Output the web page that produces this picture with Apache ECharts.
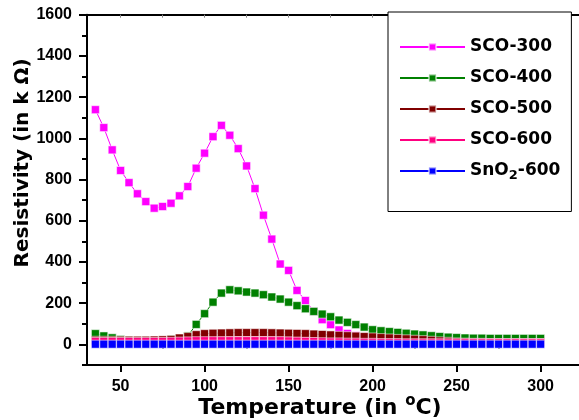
<!DOCTYPE html>
<html><head><meta charset="utf-8">
<script src="https://cdn.jsdelivr.net/npm/echarts@6/dist/echarts.min.js"></script>
<style>html,body{margin:0;padding:0;background:#fff}#c{width:579px;height:420px}</style>
</head><body><div id="c"></div>
<script>
const temps = [35,40,45,50,55,60,65,70,75,80, 85,90,95,100,105,110,115,120,125,130,
  135,140,145,150,155,160,165,170,175,180, 185,190,195,200,205,210,215,220,225,230,
  235,240,245,250,255,260,265,270,275,280, 285,290,295,300];
const sco300 = [1139,1052,944,844,785,731,693,661,669,685, 721,766,855,928,1008,1063,1015,950,866,756,
  627,511,390,359,262,213,160,120,96,70, 53,42,35,30,28,27,26,25,23,22,
  21,20,20,19,19,18,18,18,18,18, 18,18,18,18];
const sco400 = [52,41,32,24,20,19,19,19,21,25, 31,41,97,149,205,249,265,260,254,249,
  241,230,220,205,188,173,160,147,134,118, 107,96,84,71,66,62,58,54,50,46,
  42,38,35,33,31,30,30,29,29,29, 29,29,29,29];
const sco500 = [20,20,20,20,20,20,20,21,22,24, 31,38,47,52,54,55,56,57,57,57,
  57,56,55,54,53,52,50,48,46,44, 42,40,38,36,33,31,29,27,25,23,
  20,17,15,12,11,10,10,9,9,9, 9,9,9,9];
const sco600 = [14,14,14,14,14,14,14,14,14,15, 16,17,18,18,18,18,18,18,18,18,
  18,18,18,17,16,15,14,13,12,12, 11,11,10,10,9,9,9,8,8,8,
  8,8,8,8,8,8,8,8,8,8, 8,8,8,8];
const sno2600 = [1,1,1,1,1,1,1,1,1,1, 1,1,1,1,1,1,1,1,1,1,
  1,1,1,1,1,1,1,1,1,1, 1,1,1,1,1,1,1,1,1,1,
  1,1,1,1,1,1,1,1,1,1, 1,1,1,1];

const seriesNames = ['SCO-300','SCO-400','SCO-500','SCO-600','SnO2-600'];
const seriesColors = ['#FF00FF','#008000','#800000','#FF0080','#0000FF'];
const seriesValues = [sco300, sco400, sco500, sco600, sno2600];

const xTickLabels = [50,100,150,200,250,300];
const xMinorTicks = [75,125,175,225,275,325];
const xTopTicks = [50,75,100,125,150,175,200,225,250,275,300,325];
const yTickLabels = [0,200,400,600,800,1000,1200,1400,1600];
const yMinorTicks = [-100,100,300,500,700,900,1100,1300,1500];

const tickFont = '"Liberation Sans", Arial, sans-serif';
const nameFont = '"DejaVu Sans", sans-serif';
const X_MIN = 30, X_MAX = 330, Y_MIN = -100, Y_MAX = 1600;

const chart = echarts.init(document.getElementById('c'), null, {renderer: 'canvas'});

const series = seriesNames.map((name, k) => ({
  name: name,
  type: 'line',
  xAxisIndex: 0,
  yAxisIndex: 0,
  data: temps.map((t, i) => [t, seriesValues[k][i]]),
  symbol: 'rect',
  symbolSize: 8,
  showAllSymbol: true,
  lineStyle: {color: seriesColors[k], width: 1},
  itemStyle: {color: seriesColors[k], borderColor: 'rgba(255,255,255,0.55)', borderWidth: 1},
  emphasis: {disabled: true},
  animation: false
}));

const plain = v => String(v);

const option = {
  animation: false,
  backgroundColor: '#ffffff',
  grid: {left: 87, right: -12, top: 14.7, bottom: 55, containLabel: false, outerBoundsMode: 'none'},
  legend: {
    orient: 'vertical',
    left: 388,
    top: 12,
    padding: [25, 11, 29, 11],
    itemWidth: 65,
    itemHeight: 9,
    itemGap: 11,
    backgroundColor: '#ffffff',
    borderColor: '#000000',
    borderWidth: 1,
    borderRadius: 0,
    selectedMode: false,
    data: seriesNames,
    formatter: function (name) {
      return name === 'SnO2-600' ? 'SnO{sub|2}-600' : name;
    },
    textStyle: {
      fontFamily: nameFont, fontWeight: 'bold', fontSize: 17, color: '#000', lineHeight: 20,
      rich: {sub: {fontFamily: nameFont, fontWeight: 'bold', fontSize: 13, color: '#000', padding: [10, 0, 0, 0]}}
    }
  },
  xAxis: [
    {
      type: 'value', position: 'bottom', min: X_MIN, max: X_MAX,
      name: 'Temperature (in {sup|o}C)', nameLocation: 'middle', nameGap: 29, nameMoveOverlap: false,
      nameTextStyle: {
        fontFamily: nameFont, fontWeight: 'bold', fontSize: 22, color: '#000', padding: [0, 38, 0, 0],
        rich: {sup: {fontFamily: nameFont, fontWeight: 'bold', fontSize: 15, color: '#000', padding: [0, 0, 14, 0]}}
      },
      axisLine: {show: true, onZero: false, lineStyle: {color: '#000', width: 2}},
      axisTick: {show: true, inside: false, length: 7, lineStyle: {color: '#000', width: 2}, customValues: xTickLabels},
      axisLabel: {show: true, margin: 14, fontFamily: tickFont, fontWeight: 'bold', fontSize: 16, color: '#000', customValues: xTickLabels, formatter: plain},
      splitLine: {show: false}
    },
    {
      type: 'value', position: 'bottom', min: X_MIN, max: X_MAX,
      axisLine: {show: false},
      axisTick: {show: true, inside: false, length: 4, lineStyle: {color: '#000', width: 2}, customValues: xMinorTicks},
      axisLabel: {show: false},
      splitLine: {show: false}
    },
    {
      type: 'value', position: 'top', min: X_MIN, max: X_MAX,
      axisLine: {show: true, onZero: false, lineStyle: {color: '#000', width: 2}},
      axisTick: {show: true, inside: true, length: 3, lineStyle: {color: '#888', width: 1}, customValues: xTopTicks},
      axisLabel: {show: false},
      splitLine: {show: false}
    }
  ],
  yAxis: [
    {
      type: 'value', position: 'left', min: Y_MIN, max: Y_MAX,
      name: 'Resistivity (in k Ω)', nameLocation: 'middle', nameGap: 54, nameRotate: 90, nameMoveOverlap: false,
      nameTextStyle: {fontFamily: nameFont, fontWeight: 'bold', fontSize: 20, color: '#000', padding: [0, 0, 0, 54]},
      axisLine: {show: true, onZero: false, lineStyle: {color: '#000', width: 2}},
      axisTick: {show: true, inside: false, length: 8, lineStyle: {color: '#000', width: 2}, customValues: yTickLabels},
      axisLabel: {show: true, margin: 15, fontFamily: tickFont, fontWeight: 'bold', fontSize: 16, color: '#000', customValues: yTickLabels, formatter: plain},
      splitLine: {show: false}
    },
    {
      type: 'value', position: 'left', min: Y_MIN, max: Y_MAX,
      axisLine: {show: false},
      axisTick: {show: true, inside: false, length: 5, lineStyle: {color: '#000', width: 2}, customValues: yMinorTicks},
      axisLabel: {show: false},
      splitLine: {show: false}
    }
  ],
  series: series
};
chart.setOption(option);
</script>
</body></html>
